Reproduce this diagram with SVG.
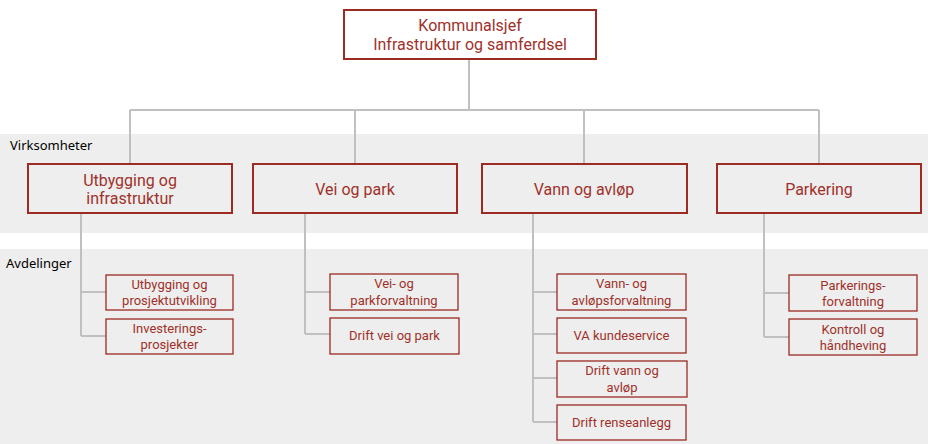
<svg xmlns="http://www.w3.org/2000/svg" width="928" height="444" viewBox="0 0 928 444">
<style>
.band{fill:#eeeeee}
.lbl{font-family:"Noto Sans","Open Sans","Liberation Sans",sans-serif;font-size:13px;fill:#000}
.b0{fill:#ffffff;stroke:#9c2b23;stroke-width:2}
.b1{fill:#eeeeee;stroke:#9c2b23;stroke-width:2}
.b2{fill:#eeeeee;stroke:#9c2b23;stroke-width:1.3}
.t1{font-family:Roboto,"Liberation Sans",sans-serif;font-size:16px;fill:#a0312a;text-anchor:middle}
.t2{font-family:Roboto,"Liberation Sans",sans-serif;font-size:13px;fill:#a0312a;text-anchor:middle}
.c{fill:none;stroke:#c0c0c0;stroke-width:2}
</style>
<rect width="928" height="444" fill="#ffffff"/>
<rect class="band" x="0" y="134" width="928" height="99"/>
<rect class="band" x="0" y="249" width="928" height="195"/>
<text class="lbl" x="10" y="150">Virksomheter</text>
<text class="lbl" x="6" y="268">Avdelinger</text>
<g id="connectors">
<path class="c" d="M469 59V110M130 110H819M130 110V164M355 110V164M584 110V164M819 110V164"/>
<path class="c" d="M81 213V336M81 292H106M81 336H106"/>
<path class="c" d="M305 213V334M305 292H330M305 334H330"/>
<path class="c" d="M533 213V422M533 292H557M533 334H557M533 378H557M533 422H557"/>
<path class="c" d="M764 213V337M764 293H789M764 337H789"/>
</g>
<g id="kommunalsjef"><rect class="b0" x="344" y="10" width="252" height="49"/><text class="t1" x="470" y="31">Kommunalsjef</text><text class="t1" x="470" y="50">Infrastruktur og samferdsel</text></g>
<g id="utbygging"><rect class="b1" x="28" y="164" width="204" height="49"/><text class="t1" x="130" y="186">Utbygging og</text><text class="t1" x="130" y="204">infrastruktur</text></g>
<g id="veiogpark"><rect class="b1" x="253" y="164" width="204" height="49"/><text class="t1" x="355" y="195">Vei og park</text></g>
<g id="vannogavlop"><rect class="b1" x="482" y="164" width="205" height="49"/><text class="t1" x="584" y="195">Vann og avløp</text></g>
<g id="parkering"><rect class="b1" x="717" y="164" width="204" height="49"/><text class="t1" x="819" y="195">Parkering</text></g>
<g id="utb-prosjekt"><rect class="b2" x="106" y="275" width="127" height="35"/><text class="t2" x="169.5" y="289">Utbygging og</text><text class="t2" x="169.5" y="305">prosjektutvikling</text></g>
<g id="investering"><rect class="b2" x="106" y="319" width="127" height="35"/><text class="t2" x="169.5" y="333">Investerings-</text><text class="t2" x="169.5" y="349">prosjekter</text></g>
<g id="veiparkforv"><rect class="b2" x="330" y="274" width="128" height="36"/><text class="t2" x="394" y="288">Vei- og</text><text class="t2" x="394" y="305">parkforvaltning</text></g>
<g id="driftvei"><rect class="b2" x="330" y="318" width="129" height="36"/><text class="t2" x="394.5" y="340">Drift vei og park</text></g>
<g id="vannforv"><rect class="b2" x="557" y="274" width="129" height="36"/><text class="t2" x="621.5" y="288">Vann- og</text><text class="t2" x="621.5" y="305">avløpsforvaltning</text></g>
<g id="vakunde"><rect class="b2" x="557" y="318" width="129" height="35"/><text class="t2" x="621.5" y="340">VA kundeservice</text></g>
<g id="driftvann"><rect class="b2" x="557" y="361" width="130" height="36"/><text class="t2" x="622" y="375">Drift vann og</text><text class="t2" x="622" y="392">avløp</text></g>
<g id="driftrense"><rect class="b2" x="557" y="405" width="129" height="35"/><text class="t2" x="621.5" y="427">Drift renseanlegg</text></g>
<g id="parkforv"><rect class="b2" x="789" y="275" width="128" height="36"/><text class="t2" x="853" y="290">Parkerings-</text><text class="t2" x="853" y="306">forvaltning</text></g>
<g id="kontroll"><rect class="b2" x="789" y="319" width="128" height="36"/><text class="t2" x="853" y="334">Kontroll og</text><text class="t2" x="853" y="350">håndheving</text></g>
</svg>
